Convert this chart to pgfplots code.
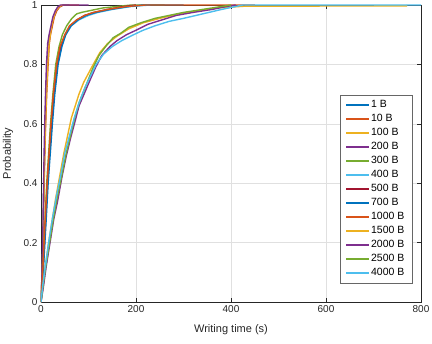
\documentclass[border=0pt]{standalone}
\usepackage{fontspec}
\setmainfont{Liberation Sans}
\usepackage{pgfplots}
\pgfplotsset{compat=1.18}
\usetikzlibrary{calc}
\definecolor{mblue}{rgb}{0,0.447,0.741}
\definecolor{morange}{rgb}{0.85,0.325,0.098}
\definecolor{myellow}{rgb}{0.929,0.694,0.125}
\definecolor{mpurple}{rgb}{0.494,0.184,0.556}
\definecolor{mgreen}{rgb}{0.466,0.674,0.188}
\definecolor{mcyan}{rgb}{0.301,0.745,0.933}
\definecolor{mred}{rgb}{0.635,0.078,0.184}
\definecolor{axgray}{rgb}{0.15,0.15,0.15}
\begin{document}
\begin{tikzpicture}
\begin{axis}[
  scale only axis, width=380pt, height=297pt,
  xmin=0, xmax=800, ymin=0, ymax=1,
  xtick={0,200,400,600,800}, ytick={0,0.2,0.4,0.6,0.8,1},
  /pgf/number format/assume math mode=true,
  yticklabel style={/pgf/number format/fixed, /pgf/number format/precision=1},
  ticklabel style={font=\fontsize{10}{12}\selectfont, text=axgray},
  axis line style={axgray, line width=0.5pt},
  tick style={axgray, line width=0.5pt},
  tick align=inside, major tick length=4pt,
  grid=major, major grid style={black!12, line width=0.5pt},
  xlabel={Writing time (s)}, ylabel={Probability},
  label style={font=\fontsize{11}{13}\selectfont, text=axgray},
  x label style={at={(axis description cs:0.5,-0.094)}, anchor=center},
  y label style={at={(axis description cs:-0.087,0.5)}, anchor=center, rotate=0},
  legend style={at={(0.978,0.064)}, anchor=south east, draw=black!60,
    fill=white, font=\fontsize{10.5}{12}\selectfont,
    nodes={inner ysep=2pt, text height=8pt, text depth=2pt},
    row sep=0pt, inner xsep=6pt, inner ysep=3pt},
  legend cell align=left,
  legend image code/.code={\fill[#1, draw=none] (0pt,-1pt) rectangle (23pt,1pt);},
  every axis plot/.append style={line width=1.4pt, line join=round},
]
% fast group
\addplot[color=mblue] coordinates {(0,0)(2.5,0.1)(4,0.2)(5.5,0.35)(7.5,0.5)(9,0.6)(11,0.7)(13.5,0.8)(16,0.87)(19,0.9)(23,0.93)(27,0.96)(32,0.98)(38,0.993)(46,1)(60,1)};
\addlegendentry{1 B}
\addplot[color=morange] coordinates {(0,0)(2.8,0.1)(4.5,0.2)(6,0.35)(8,0.5)(9.8,0.6)(12,0.7)(15,0.8)(17.5,0.87)(20,0.9)(24,0.93)(28,0.96)(33,0.98)(39,0.993)(47,1)(80,1)};
\addlegendentry{10 B}
\addplot[color=myellow] coordinates {(0,0)(2.6,0.1)(4.2,0.2)(5.8,0.35)(7.8,0.5)(9.5,0.6)(11.5,0.7)(14,0.8)(17,0.87)(19.5,0.9)(23,0.935)(27,0.96)(31,0.98)(37,0.993)(44,1)};
\addlegendentry{100 B}
\addplot[color=mpurple] coordinates {(0,0)(2.2,0.1)(3.6,0.2)(5,0.35)(6.5,0.5)(7.8,0.6)(9.5,0.7)(11.5,0.8)(14,0.87)(17,0.9)(21,0.93)(25,0.96)(30,0.98)(35,0.993)(41,1)(100,1)};
\addlegendentry{200 B}
% middle group
\addplot[color=mgreen] coordinates {(0,0)(3,0.08)(6,0.18)(9,0.29)(12,0.4)(16,0.5)(20,0.6)(25,0.7)(31,0.8)(38,0.86)(45,0.9)(54,0.93)(65,0.955)(75,0.97)(85,0.975)(100,0.98)(130,0.99)(160,0.995)(190,1)(260,1)};
\addlegendentry{300 B}
\addplot[color=mcyan] coordinates {(0,0)(3.5,0.08)(7,0.18)(10,0.28)(14,0.4)(18,0.5)(23,0.6)(28,0.7)(35,0.8)(43,0.86)(52,0.9)(64,0.93)(80,0.95)(100,0.965)(120,0.975)(150,0.985)(190,0.995)(230,1)};
\addlegendentry{400 B}
\addplot[color=mred] coordinates {(0,0)(3,0.08)(6.5,0.18)(10,0.29)(13.5,0.4)(17.5,0.5)(22,0.6)(27,0.7)(34,0.8)(42,0.86)(51,0.9)(62,0.93)(76,0.95)(92,0.965)(112,0.975)(140,0.985)(175,0.995)(200,1)};
\addlegendentry{500 B}
\addplot[color=mblue] coordinates {(0,0)(4,0.08)(7.5,0.18)(11,0.28)(15,0.4)(19.5,0.5)(24,0.6)(29,0.7)(36,0.8)(44,0.86)(52,0.9)(63,0.93)(78,0.95)(95,0.965)(115,0.975)(145,0.985)(185,0.995)(215,1)(300,1)};
\addlegendentry{700 B}
\addplot[color=morange] coordinates {(0,0)(3,0.08)(6,0.18)(9,0.28)(13,0.4)(17,0.5)(21,0.6)(26,0.7)(33,0.8)(40,0.86)(50,0.9)(60,0.93)(75,0.95)(92,0.965)(110,0.975)(140,0.985)(180,0.995)(220,1)(450,1)};
\addlegendentry{1000 B}
% slow group
\addplot[color=myellow] coordinates {(0,0)(4,0.05)(9,0.12)(16,0.2)(24,0.28)(31,0.35)(39,0.42)(48,0.5)(56,0.56)(64,0.62)(72,0.66)(80,0.7)(90,0.74)(100,0.77)(110,0.8)(124,0.84)(140,0.87)(160,0.895)(185,0.92)(215,0.94)(250,0.955)(290,0.97)(330,0.98)(370,0.99)(430,0.996)(770,0.997)(770,1)};
\addlegendentry{1500 B}
\addplot[color=mpurple] coordinates {(0,0)(5,0.05)(11,0.12)(19,0.2)(27,0.28)(35,0.34)(44,0.42)(53,0.49)(62,0.55)(72,0.61)(80,0.66)(88,0.69)(96,0.72)(104,0.75)(115,0.79)(128,0.83)(145,0.86)(160,0.88)(180,0.9)(200,0.915)(225,0.935)(255,0.95)(285,0.965)(320,0.975)(360,0.985)(390,0.995)(410,1)};
\addlegendentry{2000 B}
\addplot[color=mgreen] coordinates {(0,0)(4,0.05)(10,0.12)(18,0.2)(26,0.28)(34,0.35)(43,0.42)(53,0.5)(62,0.56)(71,0.62)(80,0.67)(90,0.71)(100,0.75)(110,0.79)(122,0.83)(136,0.86)(152,0.89)(168,0.905)(185,0.925)(210,0.94)(240,0.955)(270,0.965)(300,0.975)(340,0.985)(380,0.995)(400,1)};
\addlegendentry{2500 B}
\addplot[color=mcyan] coordinates {(0,0)(4,0.06)(10,0.13)(17,0.21)(25,0.29)(33,0.36)(42,0.43)(50,0.5)(60,0.56)(70,0.62)(80,0.67)(92,0.72)(104,0.76)(116,0.8)(132,0.835)(150,0.86)(170,0.88)(195,0.9)(215,0.915)(240,0.93)(270,0.945)(300,0.955)(340,0.97)(380,0.985)(410,0.995)(425,1)(800,1)};
\addlegendentry{4000 B}
\coordinate (ll) at (rel axis cs:0,0);
\coordinate (ur) at (rel axis cs:1,1);
\end{axis}
\pgfresetboundingbox
\path[use as bounding box] ($(ll)+(-41pt,-41pt)$) rectangle ($(ur)+(11pt,5pt)$);
\end{tikzpicture}
\end{document}
